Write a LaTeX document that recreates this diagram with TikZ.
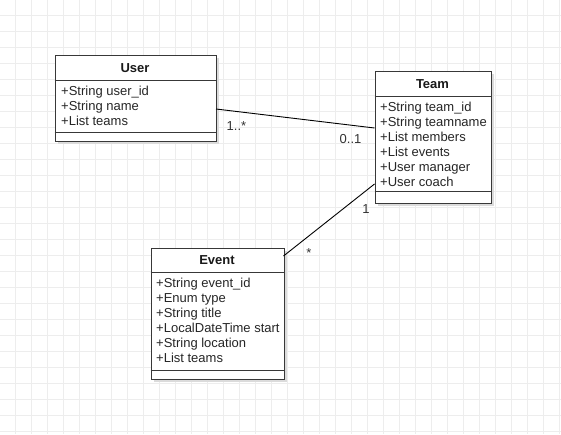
\documentclass[tikz,border=0pt]{standalone}
\usepackage{fontspec}
\setmainfont{Liberation Sans}
\begin{document}
\begin{tikzpicture}[x=1pt,y=-1pt,
  classbox/.style={draw=black!78,line width=1.1pt,fill=white,inner sep=0pt,anchor=north west},
  shadowbox/.style={fill=black!14,draw=none},
  sepline/.style={draw=black!78,line width=1.1pt},
  attr/.style={anchor=base west,inner sep=0pt,text=black!85,font=\fontsize{13}{15}\selectfont},
  ttl/.style={anchor=base,inner sep=0pt,text=black!90,font=\fontsize{13}{15}\selectfont\bfseries},
  assoc/.style={draw=black,line width=0.9pt},
  mult/.style={inner sep=0pt,text=black!80,font=\fontsize{13}{15}\selectfont}]
\useasboundingbox (0,0) rectangle (561,434);
\fill[white] (0,0) rectangle (561,434);
% grid
\foreach \gx in {15,31,...,559} \draw[black!7,line width=0.8pt] (\gx,0) -- (\gx,434);
\foreach \gy in {15,31,...,431} \draw[black!7,line width=0.8pt] (0,\gy) -- (561,\gy);
% shadows
\fill[shadowbox] (57.5,57.5) rectangle (218.5,143.5);
\fill[shadowbox] (377.5,73.5) rectangle (493.5,205.5);
\fill[shadowbox] (153.5,250.5) rectangle (286.5,381.5);
% User
\node[classbox,minimum width=161pt,minimum height=86pt] (user) at (54.5,54.5) {};
\draw[sepline] (54.5,80.5) -- (215.5,80.5);
\draw[sepline] (54.5,132.5) -- (215.5,132.5);
\node[ttl] (userT) at (135,72) {User};
\node[attr] (userA1) at (61,95) {+String user\_id};
\node[attr] (userA2) at (61,110) {+String name};
\node[attr] (userA3) at (61,125) {+List teams};
% Team
\node[classbox,minimum width=116pt,minimum height=132pt] (team) at (374.5,70.5) {};
\draw[sepline] (374.5,96.5) -- (490.5,96.5);
\draw[sepline] (374.5,191.5) -- (490.5,191.5);
\node[ttl] (teamT) at (432.5,88) {Team};
\node[attr] (teamA1) at (380,111) {+String team\_id};
\node[attr] (teamA2) at (380,126) {+String teamname};
\node[attr] (teamA3) at (380,141) {+List members};
\node[attr] (teamA4) at (380,156) {+List events};
\node[attr] (teamA5) at (380,171) {+User manager};
\node[attr] (teamA6) at (380,186) {+User coach};
% Event
\node[classbox,minimum width=133pt,minimum height=131pt] (event) at (150.5,247.5) {};
\draw[sepline] (150.5,272.5) -- (283.5,272.5);
\draw[sepline] (150.5,370.5) -- (283.5,370.5);
\node[ttl] (eventT) at (217,264) {Event};
\node[attr] (eventA1) at (156,287) {+String event\_id};
\node[attr] (eventA2) at (156,302) {+Enum type};
\node[attr] (eventA3) at (156,317) {+String title};
\node[attr] (eventA4) at (156,332) {+LocalDateTime start};
\node[attr] (eventA5) at (156,347) {+String location};
\node[attr] (eventA6) at (156,362) {+List teams};
% connector end points
\coordinate (ut) at (216,109);
\coordinate (tu) at (374.5,128);
\coordinate (et) at (283.5,256);
\coordinate (te) at (374.5,184);
\draw[assoc] (ut) -- (tu);
\draw[assoc] (et) -- (te);
% multiplicities
\node[mult] (m1) at (236.5,126) {1..*};
\node[mult] (m2) at (350.5,139) {0..1};
\node[mult] (m3) at (366,209) {1};
\node[mult] (m4) at (309,253) {*};
\end{tikzpicture}
\end{document}
